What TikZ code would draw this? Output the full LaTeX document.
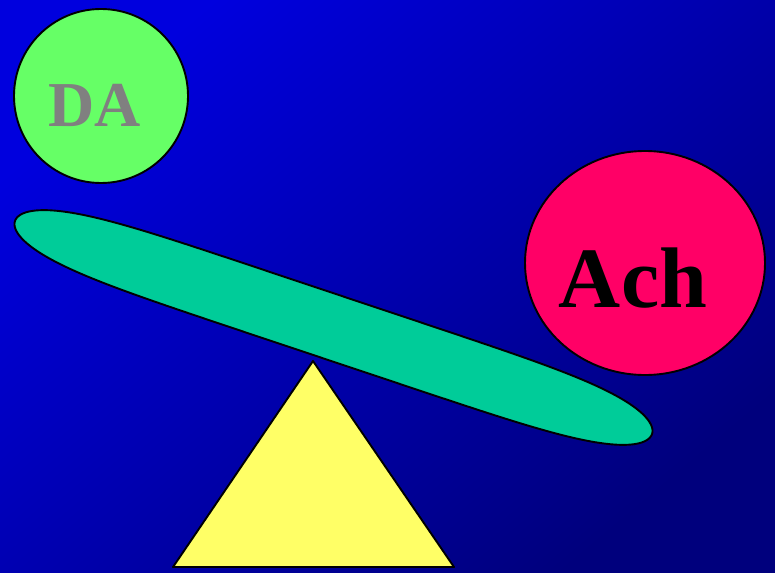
\documentclass[tikz,border=0pt]{standalone}
\usepackage{fontspec}
\setmainfont{Liberation Serif}
\usetikzlibrary{shapes.geometric}
\definecolor{bgA}{RGB}{0,0,222}
\definecolor{bgB}{RGB}{0,0,125}
\definecolor{ballgreen}{HTML}{66FF66}
\definecolor{ballred}{HTML}{FF0066}
\definecolor{barcol}{HTML}{00CC99}
\definecolor{tricol}{HTML}{FFFF66}
\definecolor{dagray}{HTML}{808080}
\tikzset{
  outline/.style={draw=black, line width=1.9pt, line join=round},
  balltext/.style={inner sep=0pt, anchor=base, font=\bfseries}
}
\begin{document}
\begin{tikzpicture}[x=1pt,y=-1pt]
\useasboundingbox (0,0) rectangle (775,572);
\shade[top color=bgA, bottom color=bgB, shading angle=40] (0,0) rectangle (775,572);
% lever bar
\begin{scope}[shift={(333.5,327.5)}, rotate=-18.49]
\draw[outline, fill=barcol] plot[domain=1:361, samples=181, variable=\t]
  ({335.8*sign(cos(\t))*pow(abs(cos(\t))+0.000001,1/3)}, {32.5*sin(\t)}) -- cycle;
\end{scope}
% fulcrum
\coordinate (apex) at (313,361);
\coordinate (bl) at (173,567);
\coordinate (br) at (454,567);
\draw[outline, fill=tricol] (apex) -- (bl) -- (br) -- cycle;
% balls
\node[outline, fill=ballgreen, circle, minimum size=174pt, inner sep=0pt] (da) at (101,96) {};
\node[balltext, text=dagray, font=\fontsize{64}{64}\selectfont\bfseries] (datext) at (95,127) {DA};
\node[outline, fill=ballred, ellipse, minimum width=240pt, minimum height=224pt, inner sep=0pt] (ach) at (645,263) {};
\node[balltext, text=black, font=\fontsize{86}{86}\selectfont\bfseries] (achtext) at (633,307) {Ach};
\end{tikzpicture}
\end{document}
